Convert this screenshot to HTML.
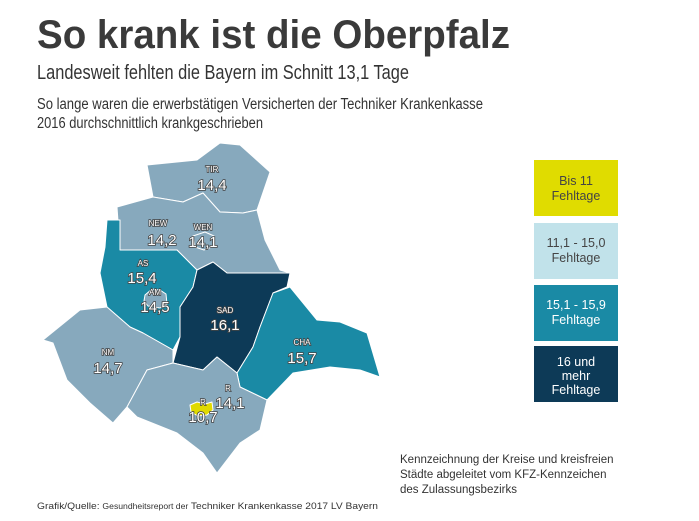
<!DOCTYPE html>
<html><head><meta charset="utf-8"><style>
html,body{margin:0;padding:0;background:#fff;}
svg{display:block;font-family:"Liberation Sans",sans-serif;}
</style></head><body>
<svg width="699" height="521" viewBox="0 0 699 521" xmlns="http://www.w3.org/2000/svg">
<rect width="699" height="521" fill="#fff"/>
<text x="37" y="48" font-size="40" font-weight="bold" fill="#3a3a3a" textLength="473" lengthAdjust="spacingAndGlyphs">So krank ist die Oberpfalz</text>
<text x="37" y="79" font-size="20" fill="#333" textLength="372" lengthAdjust="spacingAndGlyphs">Landesweit fehlten die Bayern im Schnitt 13,1 Tage</text>
<text x="37" y="109" font-size="15.5" fill="#333" textLength="446" lengthAdjust="spacingAndGlyphs">So lange waren die erwerbstätigen Versicherten der Techniker Krankenkasse</text>
<text x="37" y="128" font-size="15.5" fill="#333" textLength="226" lengthAdjust="spacingAndGlyphs">2016 durchschnittlich krankgeschrieben</text>

<g stroke="#fff" stroke-width="1" stroke-linejoin="round">
<polygon fill="#87a9bd" points="147,165 197,160 220,143 240,145 270,172 257,210 243,213 220,212 203,193 183,202 153,197"/>
<polygon fill="#87a9bd" points="117,207 153,197 183,202 203,193 220,212 243,213 257,210 265,240 280,270 290,273 227,273 213,262 197,270 177,250 120,250"/>
<polygon fill="#1a8aa5" points="107,220 120,220 120,250 177,250 197,270 193,287 180,307 180,337 173,350 143,333 130,327 107,307 100,273 105,247"/>
<polygon fill="#0d3a57" points="197,270 213,262 227,273 290,273 287,287 273,293 260,327 253,347 237,373 217,357 203,370 173,363 180,337 180,307 193,287"/>
<polygon fill="#1a8aa5" points="273,293 290,287 317,320 340,322 367,333 380,377 360,370 330,367 293,373 267,400 240,387 237,373 253,347 260,327"/>
<polygon fill="#87a9bd" points="43,340 80,310 107,307 130,327 143,333 173,350 173,363 147,370 127,407 113,423 90,403 67,380 53,343"/>
<polygon fill="#87a9bd" points="147,370 173,363 203,370 217,357 237,373 240,387 267,400 260,430 240,443 217,473 203,453 177,433 137,417 127,407"/>
<polygon fill="#87a9bd" points="145,295 152,289 160,290 166,294 167,304 160,308 148,306 144,301"/>
<polygon fill="#87a9bd" points="193,236 205,232 214,236 214,246 204,250 195,247"/>
<polygon fill="#e0da00" points="190,405 197,402 205,404 212,402 213,410 207,415 198,416 191,412"/>
</g>

<g fill="#fff" stroke="#444" stroke-width="1.6" paint-order="stroke" text-anchor="middle">
<text x="212" y="172" font-size="8">TIR</text><text x="212" y="190" font-size="15">14,4</text>
<text x="158" y="226" font-size="8">NEW</text><text x="162" y="245" font-size="15">14,2</text>
<text x="203" y="230" font-size="8">WEN</text><text x="203" y="247" font-size="15">14,1</text>
<text x="143" y="266" font-size="8">AS</text><text x="142" y="283" font-size="15">15,4</text>
<text x="155" y="295" font-size="8">AM</text><text x="155" y="312" font-size="15">14,5</text>
<text x="225" y="313" font-size="8">SAD</text><text x="225" y="330" font-size="15">16,1</text>
<text x="302" y="345" font-size="8">CHA</text><text x="302" y="363" font-size="15">15,7</text>
<text x="108" y="355" font-size="8">NM</text><text x="108" y="373" font-size="15">14,7</text>
<text x="228" y="391" font-size="8">R</text><text x="230" y="408" font-size="15">14,1</text>
<text x="203" y="405" font-size="8">R</text><text x="203" y="422" font-size="15">10,7</text>
</g>

<g font-size="12.5" text-anchor="middle">
<rect x="534" y="160" width="84" height="56" fill="#e0dc00"/>
<text x="576" y="185" fill="#444">Bis 11</text><text x="576" y="200" fill="#444">Fehltage</text>
<rect x="534" y="223" width="84" height="56" fill="#c1e2ea"/>
<text x="576" y="247" fill="#444">11,1 - 15,0</text><text x="576" y="262" fill="#444">Fehltage</text>
<rect x="534" y="285" width="84" height="56" fill="#1a8aa5"/>
<text x="576" y="309" fill="#fff">15,1 - 15,9</text><text x="576" y="324" fill="#fff">Fehltage</text>
<rect x="534" y="346" width="84" height="56" fill="#0d3a57"/>
<text x="576" y="366" fill="#fff">16 und</text><text x="576" y="380" fill="#fff">mehr</text><text x="576" y="394" fill="#fff">Fehltage</text>
</g>

<g font-size="11.5" fill="#333">
<text x="400" y="463">Kennzeichnung der Kreise und kreisfreien</text>
<text x="400" y="478">Städte abgeleitet vom KFZ-Kennzeichen</text>
<text x="400" y="493">des Zulassungsbezirks</text>
</g>
<text x="37" y="509" font-size="9.5" fill="#333" textLength="341" lengthAdjust="spacingAndGlyphs">Grafik/Quelle: <tspan font-size="8">Gesundheitsreport der</tspan> Techniker Krankenkasse 2017 LV Bayern</text>
</svg>
</body></html>
